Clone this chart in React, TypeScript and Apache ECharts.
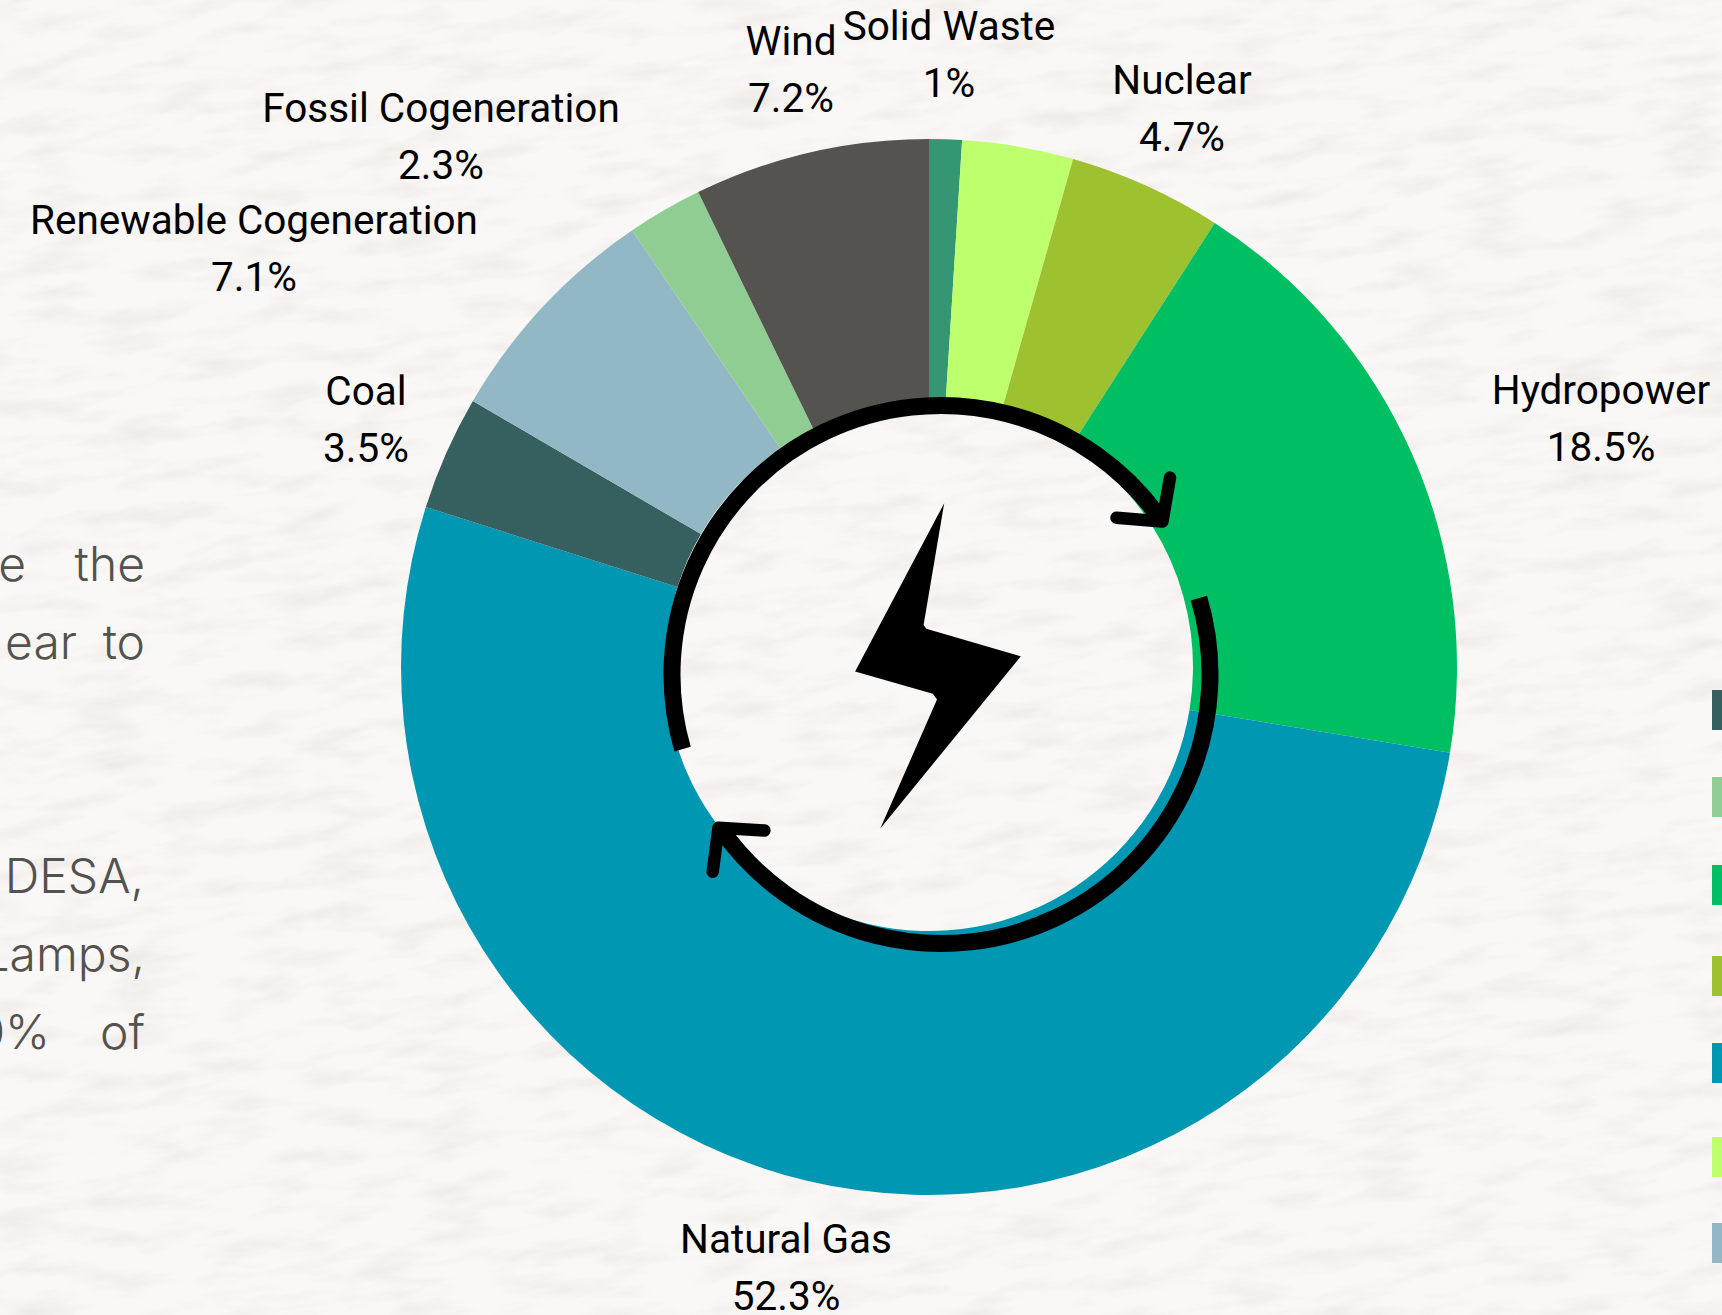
import React, { useEffect, useRef } from "react";
import * as echarts from "echarts";

const names = ["Solid Waste", "Solar", "Nuclear", "Hydropower", "Natural Gas", "Coal", "Renewable Cogeneration", "Fossil Cogeneration", "Wind"];
const shares = [1, 3.4, 4.7, 18.5, 52.3, 3.5, 7.1, 2.3, 7.2];
const colors = ["#359673", "#BEFF6E", "#9EC130", "#00BF63", "#0097B2", "#365F5F", "#92B8C6", "#8FCD92", "#545350"];
const labelVisible = [true, false, true, true, true, true, true, true, true];
const labelCenters: [number, number][] = [[949, 54], [0, 0], [1182, 108], [1601, 418], [786, 1267], [366, 419], [254, 248], [441, 136], [791, 69]];

const legendColors = ["#365F5F", "#8FCD92", "#00BF63", "#9EC130", "#0097B2", "#BEFF6E", "#92B8C6"];
const legendTops = [690, 777, 865, 956, 1043, 1137, 1223];

const sideWords: [string, number, string, number][] = [
  ["e", 26, "right", 587], ["the", 145, "right", 587],
  ["ear", 77, "right", 665], ["to", 145, "right", 665],
  ["DESA,", 144, "right", 899],
  ["Lamps,", 145, "right", 977],
  ["0%", 50, "right", 1055], ["of", 145, "right", 1055],
];

const paper = `url("data:image/svg+xml;utf8,${encodeURIComponent(
  `<svg xmlns='http://www.w3.org/2000/svg' width='1722' height='1315'><filter id='p' x='0' y='0' width='100%' height='100%'><feTurbulence type='fractalNoise' baseFrequency='0.014 0.05' numOctaves='4' seed='11'/><feColorMatrix values='0 0 0 0 0.62 0 0 0 0 0.57 0 0 0 0 0.54 1.5 0 0 0 -0.66'/></filter><rect x='-200' y='-200' width='2200' height='1800' transform='rotate(-7 861 657)' filter='url(#p)' opacity='0.4'/></svg>`
)}")`;

const rad = (d: number) => (d * Math.PI) / 180;

export default function App() {
  const ref = useRef<HTMLDivElement>(null);
  useEffect(() => {
    document.body.style.margin = "0";
    document.body.style.overflow = "hidden";
    const chart = echarts.init(ref.current!, null, { renderer: "svg" });
    const ringC = { cx: 941, cy: 674.5, r: 269 };
    const ringStyle = { stroke: "#000", fill: "none", lineWidth: 17, lineCap: "butt" };
    const headStyle = { stroke: "#000", fill: "none", lineWidth: 12.5, lineCap: "round", lineJoin: "round" };
    chart.setOption({
      animation: false,
      backgroundColor: "transparent",
      series: [
        {
          type: "pie",
          z: 1,
          center: [929, 667],
          radius: [264, 528],
          startAngle: 90,
          clockwise: true,
          avoidLabelOverlap: false,
          data: names.map((n, i) => ({
            name: n,
            value: shares[i],
            itemStyle: { color: colors[i] },
            label: { show: labelVisible[i] },
            labelLine: { show: false },
          })),
          label: {
            position: "outside",
            formatter: "{b}\n{c}%",
            fontFamily: "Roboto",
            fontSize: 40.5,
            fontWeight: 400,
            lineHeight: 57,
            color: "#000",
            align: "center",
          },
          labelLine: { show: false },
          labelLayout: (p: any) => ({
            x: labelCenters[p.dataIndex][0],
            y: labelCenters[p.dataIndex][1],
            align: "center",
            verticalAlign: "middle",
          }),
        },
      ],
      graphic: {
        elements: [
          {
            type: "group",
            z: 100,
            children: [
              ...legendTops.map((t, i) => ({
                type: "rect",
                z: 100,
                shape: { x: 1712, y: t, width: 10, height: 40 },
                style: { fill: legendColors[i] },
              })),
              ...sideWords.map(([text, x, align, y]) => ({
                type: "text",
                z: 100,
                x,
                y,
                style: { text, fill: "#54524E", font: "300 48px Inter", textAlign: align, textVerticalAlign: "bottom" },
              })),
              { type: "arc", z: 100, shape: { ...ringC, startAngle: rad(-16.5), endAngle: rad(144.7), clockwise: true }, style: ringStyle },
              { type: "arc", z: 100, shape: { ...ringC, startAngle: rad(163.9), endAngle: rad(324.6), clockwise: true }, style: ringStyle },
              { type: "polyline", z: 101, shape: { points: [[1170, 477.6], [1162.4, 521.6], [1116.5, 517.8]] }, style: headStyle },
              { type: "polyline", z: 101, shape: { points: [[712.7, 871.8], [718.5, 827.7], [764.4, 830.5]] }, style: headStyle },
              {
                type: "polygon",
                z: 100,
                shape: {
                  points: [[944.2, 503.2], [923.6, 624.9], [926.3, 628.8], [1020.8, 656.3], [880.3, 828.5], [937, 699.6], [932.8, 693.8], [855.1, 671.6]],
                },
                style: { fill: "#000" },
              },
            ],
          },
        ],
      },
    });
    return () => chart.dispose();
  }, []);
  return (
    <div style={{ position: "absolute", left: 0, top: 0, width: 1722, height: 1315, background: "#FAF8F6", backgroundImage: paper }}>
      <div ref={ref} style={{ width: 1722, height: 1315 }} />
    </div>
  );
}
